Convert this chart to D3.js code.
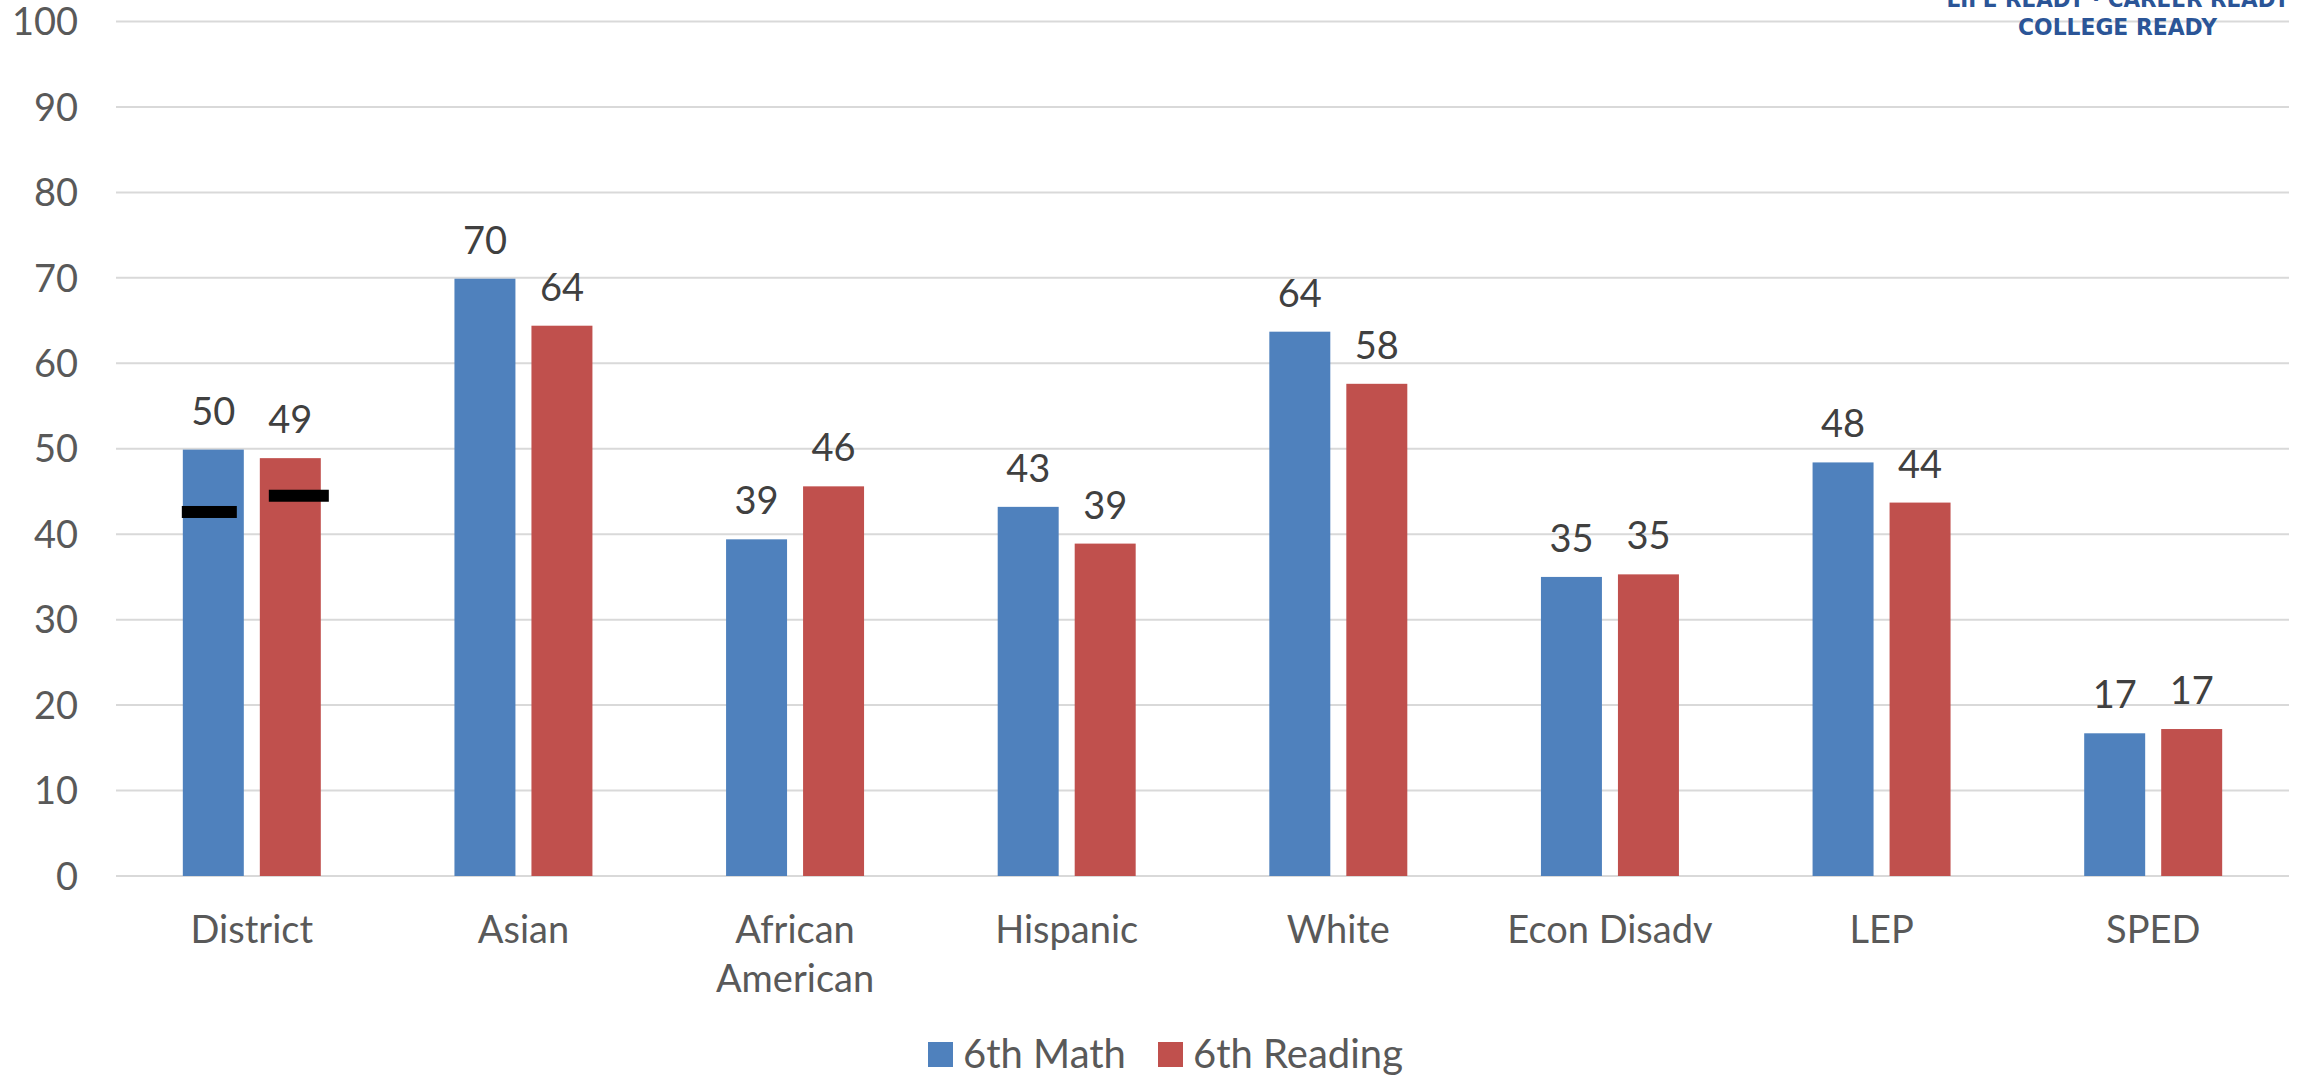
<!DOCTYPE html>
<html>
<head>
<meta charset="utf-8">
<script src="https://cdn.jsdelivr.net/npm/d3@7"></script>
<style>
  html, body { margin: 0; padding: 0; background: #ffffff; }
  svg { display: block; font-family: Lato, "Open Sans", sans-serif; }
</style>
</head>
<body>
<div id="chart"></div>
<script>
// grupos e series do grafico de 6o ano
const categories = ["District", "Asian", "African American", "Hispanic", "White", "Econ Disadv", "LEP", "SPED"];
const series = ["6th Math", "6th Reading"];
const mathValues = [49.9, 69.9, 39.4, 43.2, 63.7, 35.0, 48.4, 16.7];
const readingValues = [48.9, 64.4, 45.6, 38.9, 57.6, 35.3, 43.7, 17.2];
const districtMarks = [42.6, 44.5];
const yTicks = [0, 10, 20, 30, 40, 50, 60, 70, 80, 90, 100];

const COLORS = { "6th Math": "#4f81bd", "6th Reading": "#c0504d" };

const W = 2303;
const H = 1076;
const plotLeft = 116;
const plotRight = 2289;
const plotTop = 21.5;
const plotBottom = 876;

const svg = d3.select("#chart").append("svg").attr("width", W).attr("height", H);

const y = d3.scaleLinear().domain([0, 100]).range([plotBottom, plotTop]);
const x0 = d3.scaleBand().domain(categories).range([plotLeft, plotRight]).paddingInner(0.492).paddingOuter(0.246);
const x1 = d3.scaleBand().domain(series).range([0, x0.bandwidth()]).paddingInner(0.208);

// grade
svg
  .append("g")
  .selectAll("line")
  .data(yTicks)
  .join("line")
  .attr("x1", plotLeft)
  .attr("x2", plotRight)
  .attr("y1", (d) => y(d))
  .attr("y2", (d) => y(d))
  .attr("stroke", "#d9d9d9")
  .attr("stroke-width", 2);

// rotulos do eixo y
svg
  .append("g")
  .selectAll("text")
  .data(yTicks)
  .join("text")
  .attr("x", 78)
  .attr("y", (d) => y(d))
  .attr("dy", "0.36em")
  .attr("text-anchor", "end")
  .attr("font-size", 38)
  .attr("fill", "#595959")
  .text((d) => d);

const rows = categories.map((c, i) => ({
  cat: c,
  values: [
    { key: "6th Math", value: mathValues[i] },
    { key: "6th Reading", value: readingValues[i] },
  ],
}));

const groups = svg
  .append("g")
  .selectAll("g")
  .data(rows)
  .join("g")
  .attr("transform", (d) => `translate(${x0(d.cat)},0)`);

groups
  .selectAll("rect")
  .data((d) => d.values)
  .join("rect")
  .attr("x", (d) => x1(d.key))
  .attr("y", (d) => y(d.value))
  .attr("width", x1.bandwidth())
  .attr("height", (d) => y(0) - y(d.value))
  .attr("fill", (d) => COLORS[d.key]);

groups
  .selectAll("text.val")
  .data((d) => d.values)
  .join("text")
  .attr("class", "val")
  .attr("x", (d) => x1(d.key) + x1.bandwidth() / 2)
  .attr("y", (d) => y(d.value) - 25)
  .attr("text-anchor", "middle")
  .attr("font-size", 38)
  .attr("fill", "#404040")
  .text((d) => Math.round(d.value));

// marcas pretas do District
const markOffset = [-1, 9];
const markWidth = [55, 60];
svg
  .append("g")
  .selectAll("rect")
  .data(districtMarks)
  .join("rect")
  .attr("x", (d, i) => x0("District") + x1(series[i]) + markOffset[i])
  .attr("y", (d) => y(d) - 6)
  .attr("width", (d, i) => markWidth[i])
  .attr("height", 12)
  .attr("fill", "#000000");

// rotulos das categorias
svg
  .append("g")
  .selectAll("text")
  .data(categories)
  .join("text")
  .attr("x", (d) => x0(d) + x0.bandwidth() / 2)
  .attr("y", 943)
  .attr("text-anchor", "middle")
  .attr("font-size", 38)
  .attr("fill", "#595959")
  .each(function (d) {
    const words = d === "African American" ? ["African", "American"] : [d];
    d3.select(this)
      .selectAll("tspan")
      .data(words)
      .join("tspan")
      .attr("x", x0(d) + x0.bandwidth() / 2)
      .attr("dy", (w, i) => (i === 0 ? 0 : 49))
      .text((w) => w);
  });

// legenda
const legendX = [928, 1158];
const legend = svg
  .append("g")
  .selectAll("g")
  .data(series)
  .join("g")
  .attr("transform", (d, i) => `translate(${legendX[i]},1042)`);
legend.append("rect").attr("width", 25).attr("height", 25).attr("fill", (d) => COLORS[d]);
legend
  .append("text")
  .attr("x", 35)
  .attr("y", 25.5)
  .attr("font-size", 40)
  .attr("fill", "#595959")
  .text((d) => d);

// logo no canto
const logo = svg.append("g").attr("fill", "#2b5597").attr("font-family", "'DejaVu Sans', sans-serif").attr("font-weight", "bold").attr("font-size", 23);
logo
  .append("text")
  .attr("x", 2118)
  .attr("y", 6.5)
  .attr("text-anchor", "middle")
  .attr("textLength", 343)
  .attr("lengthAdjust", "spacingAndGlyphs")
  .text("LIFE READY · CAREER READY");
logo
  .append("text")
  .attr("x", 2117.5)
  .attr("y", 35)
  .attr("text-anchor", "middle")
  .attr("textLength", 199)
  .attr("lengthAdjust", "spacingAndGlyphs")
  .text("COLLEGE READY");
</script>
</body>
</html>
